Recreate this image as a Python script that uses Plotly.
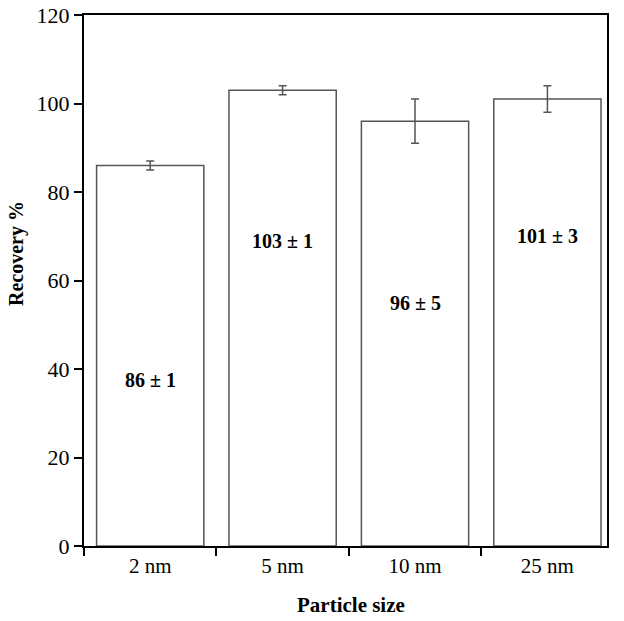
import plotly.graph_objects as go

sizes = ["2 nm", "5 nm", "10 nm", "25 nm"]
recovery = [86, 103, 96, 101]
error = [1, 1, 5, 3]
label_y = [37.5, 69, 55, 70]

SERIF = "Liberation Serif, Times New Roman, serif"

fig = go.Figure()
fig.add_trace(go.Bar(
    x=sizes, y=recovery,
    marker=dict(color="white", line=dict(color="#555555", width=1.5)),
    width=0.81,
    error_y=dict(type="data", array=error, color="#555555", thickness=1.5, width=4),
    showlegend=False,
))

for s, r, e, ly in zip(sizes, recovery, error, label_y):
    fig.add_annotation(
        x=s, y=ly, text=f"<b>{r} ± {e}</b>", showarrow=False,
        font=dict(family=SERIF, size=20, color="black"),
    )

# axis titles as annotations (the original sits slightly off-centre)
fig.add_annotation(
    x=-0.128, y=0.55, xref="paper", yref="paper", textangle=-90,
    xanchor="center", yanchor="middle",
    text="<b>Recovery %</b>", showarrow=False,
    font=dict(family=SERIF, size=20, color="black"),
)
fig.add_annotation(
    x=0.51, y=-0.111, xref="paper", yref="paper",
    xanchor="center", yanchor="middle",
    text="<b>Particle size</b>", showarrow=False,
    font=dict(family=SERIF, size=21, color="black"),
)

fig.update_layout(
    autosize=True,
    margin=dict(l=84, r=17, t=15, b=75),
    plot_bgcolor="white", paper_bgcolor="white",
    font=dict(family=SERIF, size=18, color="black"),
)
fig.update_xaxes(
    range=[-0.5, 3.45], automargin=False,
    showline=True, linewidth=2, linecolor="black", mirror=True,
    ticks="outside", tickson="boundaries", ticklen=8, tickwidth=2, tickcolor="black",
    showgrid=False,
    tickfont=dict(size=21),
)
fig.update_yaxes(
    range=[0, 120], dtick=20, automargin=False,
    showline=True, linewidth=2, linecolor="black", mirror=True,
    ticks="outside", ticklen=8, tickwidth=2, tickcolor="black",
    showgrid=False, zeroline=False,
    tickfont=dict(size=22),
)

fig.write_html("out.html", config={"responsive": True, "displayModeBar": False},
               post_script="document.body.style.margin='0';window.dispatchEvent(new Event('resize'));")
